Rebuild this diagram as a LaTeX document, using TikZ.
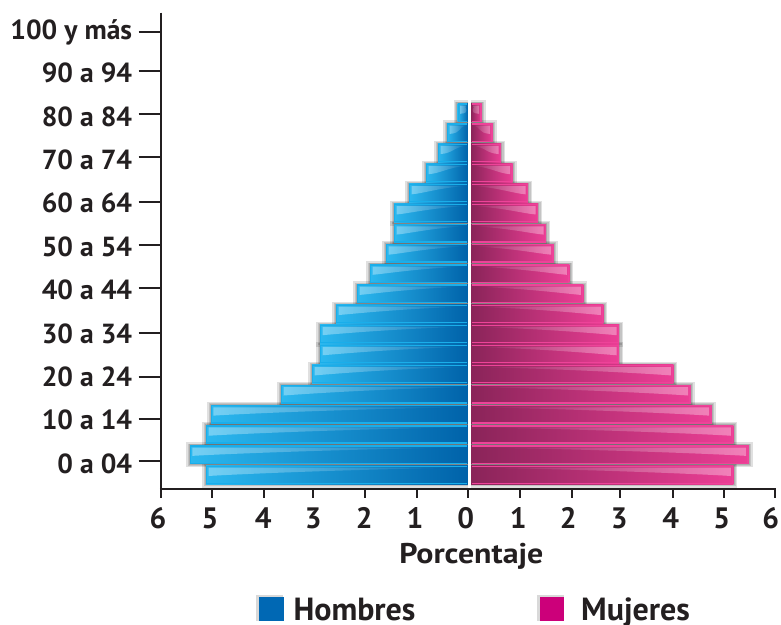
\documentclass[tikz,border=0pt]{standalone}
\usepackage{fontspec}
\setmainfont{PT Sans}
\usetikzlibrary{fadings}
\definecolor{txt}{HTML}{231F20}
\definecolor{mL}{HTML}{2BB8EF}
\definecolor{mR}{HTML}{0062A9}
\definecolor{mB}{HTML}{1AAEEA}
\definecolor{fL}{HTML}{8A2459}
\definecolor{fR}{HTML}{EC3E95}
\definecolor{fB}{HTML}{EE4399}
\definecolor{legB}{HTML}{0068B4}
\definecolor{legP}{HTML}{CC007A}
\begin{document}
\begin{tikzpicture}[x=1pt,y=-1pt,
  agelabel/.style={anchor=base east,inner sep=0pt,text=txt,font=\fontsize{27.6}{27.6}\selectfont\bfseries},
  ticklabel/.style={anchor=base,inner sep=0pt,text=txt,font=\fontsize{29.5}{29.5}\selectfont\bfseries},
  titlelabel/.style={anchor=base,inner sep=0pt,text=txt,font=\fontsize{28.5}{28.5}\selectfont\bfseries},
  leglabel/.style={anchor=base west,inner sep=0pt,text=txt,font=\fontsize{32}{32}\selectfont\bfseries},
  axisline/.style={draw=txt,line width=2.2pt},
  tickline/.style={draw=txt,line width=2pt},
  barshadow/.style={fill=black,opacity=0.12},
  gloss/.style={fill=white,opacity=0.35}]
\useasboundingbox (0,0) rectangle (781,624);
\fill[white] (0,0) rectangle (781,624);
\def\bardata{0/206/733.3,1/190/748.7,2/206/733.3,3/211/711.7,4/281/690.7,5/312/673.3,6/320/619,7/320/619,8/336/603.3,9/357/583.3,10/370/569.3,11/386/553.7,12/394/546,13/394/538,14/409/528,15/426/512.7,16/438/501,17/447/492.7,18/457.5/481.7}
% shadows
\foreach \i/\L/\R in \bardata {
  \pgfmathsetmacro\t{465.5-20.12*\i}
  \pgfmathsetmacro\b{\t+18.5}
  \fill[barshadow] (\L-4,\t-3) rectangle (\R+4,\b+3.5);
  \fill[barshadow] (\L-2.5,\t-1.8) rectangle (\R+2.5,\b+2);
  \fill[barshadow] (\L-1.2,\t-0.9) rectangle (\R+1.2,\b+1);
}
% bars
\foreach \i/\L/\R in \bardata {
  \pgfmathsetmacro\t{465.5-20.12*\i}
  \pgfmathsetmacro\b{\t+18.5}
  \shade[left color=mL,right color=mR] (\L,\t) rectangle (468,\b);
  \draw[mB,line width=1.3pt] (467,\t+0.65) -- (\L+0.65,\t+0.65) -- (\L+0.65,\b-0.65) -- (467,\b-0.65);
  \fill[gloss,path fading=east] (\L+2.5,\t+2.2) -- (466,\t+2.2) .. controls (\L+0.5*468-0.5*\L,\t+4) and (\L+15,\t+9.5) .. (\L+2.5,\t+10.5) -- cycle;
  \shade[left color=fL,right color=fR] (471,\t) rectangle (\R,\b);
  \draw[fB,line width=1.3pt] (472,\t+0.65) -- (\R-0.65,\t+0.65) -- (\R-0.65,\b-0.65) -- (472,\b-0.65);
  \fill[gloss,path fading=west] (\R-2.5,\t+2.2) -- (473,\t+2.2) .. controls (\R-0.5*\R+0.5*471,\t+4) and (\R-15,\t+9.5) .. (\R-2.5,\t+10.5) -- cycle;
}
\fill[white] (468,98) rectangle (470.8,487.5);
% axes
\draw[axisline] (161,12.7) -- (161,490.1);
\draw[axisline] (159.9,489) -- (776,489);
\foreach \x in {161,211.7,264.3,312.7,365,416.7,468,520,571.7,620,673.3,724,775}
  \draw[tickline] (\x,489) -- (\x,498);
\foreach \y in {31.7,71,114,157.3,201.7,245,288.3,333.3,376.7,419,461}
  \draw[tickline] (138.7,\y) -- (161,\y);
% age labels
\foreach \k/\txt in {0/100 y más,1/90 a 94,2/80 a 84,3/70 a 74,4/60 a 64,5/50 a 54,6/40 a 44,7/30 a 34,8/20 a 24,9/10 a 14,10/0 a 04}
  \node[agelabel] (age\k) at (132.3,39.3+43.4*\k) {\txt};
% tick labels
\foreach \x/\v [count=\n] in {158/6,210/5,263.3/4,313.3/3,364.3/2,415/1,465.7/0,518.3/1,568.3/2,619.3/3,670.7/4,721.7/5,770.7/6}
  \node[ticklabel] (tl\n) at (\x,528.3) {\v};
\node[titlelabel] (title) at (471.3,563.3) {\scalebox{1.12}[1]{Porcentaje}};
% legend
\fill[black,opacity=0.15] (256.3,594.7) rectangle (283.3,620.7);
\fill[black,opacity=0.15] (537.3,594.7) rectangle (564,620.7);
\node[fill=legB,inner sep=0pt,minimum width=25pt,minimum height=24pt,anchor=north west] (legm) at (258.3,596.7) {};
\node[leglabel] (legmt) at (293.3,620) {Hombres};
\node[fill=legP,inner sep=0pt,minimum width=24.7pt,minimum height=24pt,anchor=north west] (legf) at (539.3,596.7) {};
\node[leglabel] (legft) at (581,620) {Mujeres};
\end{tikzpicture}
\end{document}
